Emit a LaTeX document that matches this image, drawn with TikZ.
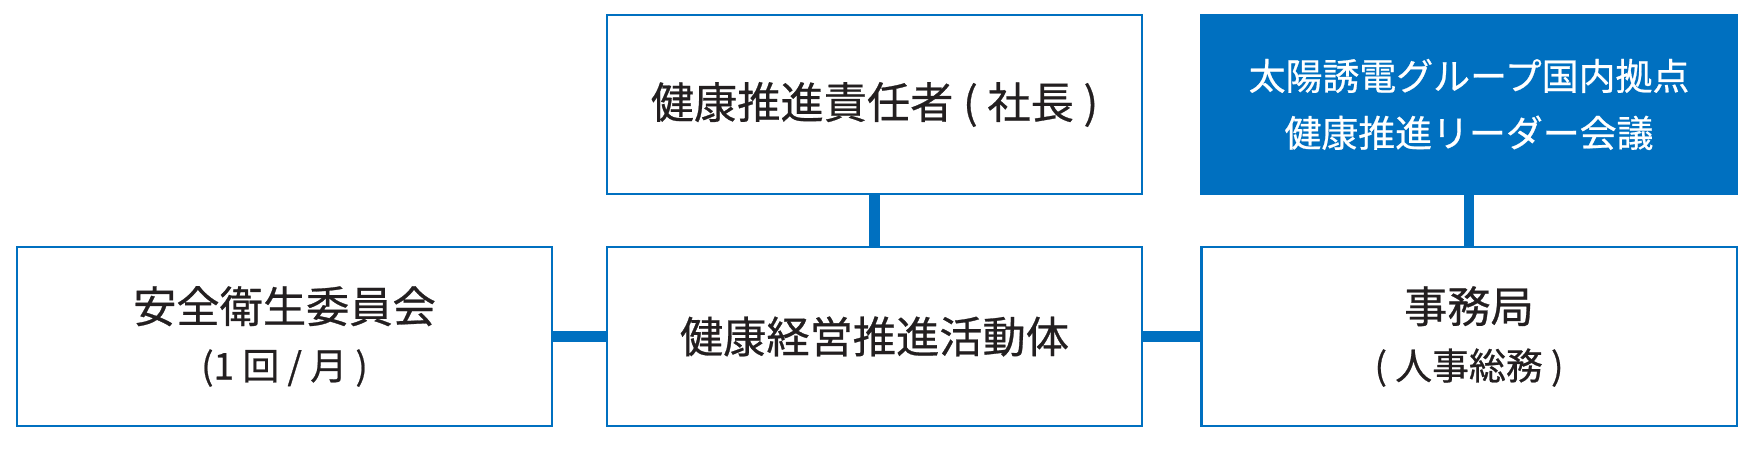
\documentclass[tikz,border=0pt]{standalone}
\usepackage{fontspec}
\newfontfamily\jpfont[FakeBold=0.6]{Noto Sans CJK JP}
\usetikzlibrary{positioning}
\definecolor{tyblue}{HTML}{0070C0}
\definecolor{tytext}{HTML}{231F20}

\tikzset{
  orgbox/.style={draw=tyblue, line width=1.15pt, fill=white, minimum width=10.7cm,
    minimum height=3.58cm, align=center, text=tytext,
    font=\jpfont\fontsize{24.6}{32.4}\selectfont},
  orgfill/.style={orgbox, fill=tyblue, text=white,
    font=\jpfont\fontsize{21}{32.4}\selectfont},
  link/.style={tyblue, line width=5.7pt}
}
\newcommand{\subline}[1]{{\fontsize{21}{32.4}\selectfont #1}}

\begin{document}
\begin{tikzpicture}
                \useasboundingbox (0,0) rectangle (35,9.04);

                % top row
                \node[orgbox] (head) at (17.49, 6.95) {健康推進責任者 ( 社長 )};
                \node[orgfill] (leader) at (29.38, 6.95) {太陽誘電グループ国内拠点\\健康推進リーダー会議};

                % bottom row
                \node[orgbox] (safety) at (5.69, 2.31) {安全衛生委員会\\\subline{(1 回 / 月 )}};
                \node[orgbox] (promo) at (17.49, 2.31) {健康経営推進活動体};
                \node[orgbox] (office) at (29.38, 2.31) {事務局\\\subline{( 人事総務 )}};

                % connectors
                \draw[link] (head.south) -- (promo.north);
                \draw[link] (leader.south) -- (office.north);
                \draw[link] (safety.east) -- (promo.west);
                \draw[link] (promo.east) -- (office.west);
\end{tikzpicture}
\end{document}
